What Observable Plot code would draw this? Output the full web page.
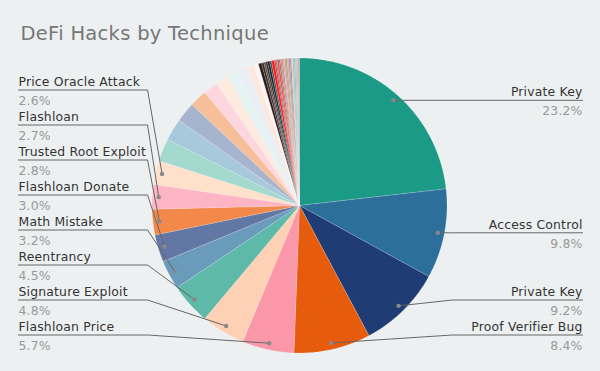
<!DOCTYPE html>
<html><head><meta charset="utf-8">
<script src="https://cdn.jsdelivr.net/npm/d3@7"></script>
<script src="https://cdn.jsdelivr.net/npm/@observablehq/plot@0.6"></script>
<style>html,body{margin:0;padding:0;background:#edf0f1;} #chart svg text{letter-spacing:0.015em;}</style>
</head><body><div id="chart"></div>
<script>
const title = "DeFi Hacks by Technique";
// labelled techniques, clockwise from 12 o'clock
const techniques = ["Private Key","Access Control","Private Key","Proof Verifier Bug","Flashloan Price","Signature Exploit","Reentrancy","Math Mistake","Flashloan Donate","Trusted Root Exploit","Flashloan","Price Oracle Attack"];
const shares = [23.2, 9.8, 9.2, 8.4, 5.7, 4.8, 4.5, 3.2, 3.0, 2.8, 2.7, 2.6];
// unlabelled small techniques (estimated), continuing clockwise
const minorShares = [2.5, 2.4, 2.2, 1.9, 1.6, 1.4, 1.3, 1.1, 0.7, 0.5,
  0.35, 0.25, 0.2, 0.2, 0.25, 0.2, 0.3, 0.15, 0.15, 0.2, 0.15, 0.15, 0.15, 0.15, 0.15, 0.15, 0.15, 0.15, 0.15, 0.15, 0.15, 0.15, 0.15, 0.15, 0.15];
const palette = ["#1b9a87","#2d6f9b","#1f3d74","#e65b0c","#fa97a9","#fed1b4","#5eb9a9","#6a9bbb","#6277a3","#f2894b","#fdb5c4","#fee0cb",
  "#a3d9cf","#a8c8db","#a7b4cd","#f6bf9a","#fdd6df","#feeadf","#e6f3f3","#e9edf4","#fde7d9","#fdf3f3",
  "#2a1a1c","#3b2a22","#5a4638","#2b2320","#062a40","#5a4a40","#ff1b1b","#c03030","#7a7a7a","#ff3a3a","#8a6a60","#e07070","#9a8a8a","#f0a0a0","#c09070","#90a080","#f0a060","#a080b0","#8090b0","#f5b0c0","#a0c0a0","#80c0b0","#c0b0d0","#d0c0a0","#b0a0a0"];

const slices = [
  ...shares.map((v, i) => ({name: techniques[i], value: v, labelled: true})),
  ...minorShares.map((v) => ({name: "", value: v, labelled: false}))
];
const total = d3.sum(slices, d => d.value);
let acc = 0;
slices.forEach((s, i) => {
  s.a0 = acc / total * 2 * Math.PI;
  acc += s.value;
  s.a1 = acc / total * 2 * Math.PI;
  s.mid = (s.a0 + s.a1) / 2;
  s.color = palette[i % palette.length];
  s.id = i;
});

// slice polygons (unit radius, y downwards)
const poly = [];
for (const s of slices) {
  poly.push({id: s.id, color: s.color, x: 0, y: 0});
  const n = Math.max(2, Math.ceil((s.a1 - s.a0) / 0.01));
  for (let k = 0; k <= n; k++) {
    const a = s.a0 + (s.a1 - s.a0) * k / n;
    poly.push({id: s.id, color: s.color, x: Math.sin(a), y: -Math.cos(a)});
  }
  poly.push({id: s.id, color: s.color, x: 0, y: 0});
}

// label layout
const R = 147.5;            // px radius, used to convert spacing
const spacing = 35 / R;
const maxY = 0.878;
const dotR = 0.956;
const labelled = slices.filter(s => s.labelled);
labelled.forEach(s => {
  s.dx = dotR * Math.sin(s.mid);
  s.dy = -dotR * Math.cos(s.mid);
  s.side = s.mid < Math.PI ? "right" : "left";
});
for (const side of ["right", "left"]) {
  const grp = labelled.filter(s => s.side === side).sort((a, b) => b.dy - a.dy);
  let limit = maxY;
  for (const s of grp) {
    s.ly = Math.min(s.dy, limit);
    limit = s.ly - spacing;
  }
}
const leaders = [];
labelled.forEach(s => {
  const bend = s.side === "right" ? 1.037 : -1.03;
  const end = s.side === "right" ? 1.919 : -1.905;
  s.ex = end;
  leaders.push({id: s.id, x: s.dx, y: s.dy});
  leaders.push({id: s.id, x: bend, y: s.ly});
  leaders.push({id: s.id, x: end, y: s.ly});
});
const fmt = v => v.toFixed(1) + "%";
const rightL = labelled.filter(s => s.side === "right");
const leftL = labelled.filter(s => s.side === "left");

const chart = Plot.plot({
  width: 600, height: 371,
  marginTop: 0, marginBottom: 0, marginLeft: 0, marginRight: 0,
  x: {domain: [-1, 1], range: [151.5, 446.5], axis: null},
  y: {domain: [-1, 1], range: [57.5, 352.5], axis: null},
  style: {fontFamily: "DejaVu Sans", background: "#edf0f1", overflow: "visible"},
  marks: [
    Plot.line(poly, {x: "x", y: "y", z: "id", fill: "color", stroke: "#ffffff", strokeOpacity: 0.35, strokeWidth: 0.5, curve: "linear"}),
    Plot.line(leaders, {x: "x", y: "y", z: "id", stroke: "#666", strokeWidth: 1}),
    Plot.dot(labelled, {x: "dx", y: "dy", r: 2.2, fill: "#888", stroke: "none"}),
    Plot.text(rightL, {x: "ex", y: "ly", text: "name", textAnchor: "end", lineAnchor: "bottom", dy: -4, fontSize: 12.4, fill: "#333"}),
    Plot.text(leftL, {x: "ex", y: "ly", text: "name", textAnchor: "start", lineAnchor: "bottom", dy: -4, fontSize: 12.4, fill: "#333"}),
    Plot.text(rightL, {x: "ex", y: "ly", text: d => fmt(d.value), textAnchor: "end", lineAnchor: "bottom", dy: 15, fontSize: 12.4, fill: "#999"}),
    Plot.text(leftL, {x: "ex", y: "ly", text: d => fmt(d.value), textAnchor: "start", lineAnchor: "bottom", dy: 15, fontSize: 12.4, fill: "#999"}),
    Plot.text([title], {text: d => d, frameAnchor: "top-left", dx: 20, dy: 39, lineAnchor: "bottom", textAnchor: "start", fontSize: 19.5, fill: "#777"})
  ]
});
document.getElementById("chart").append(chart);
</script>
</body></html>
